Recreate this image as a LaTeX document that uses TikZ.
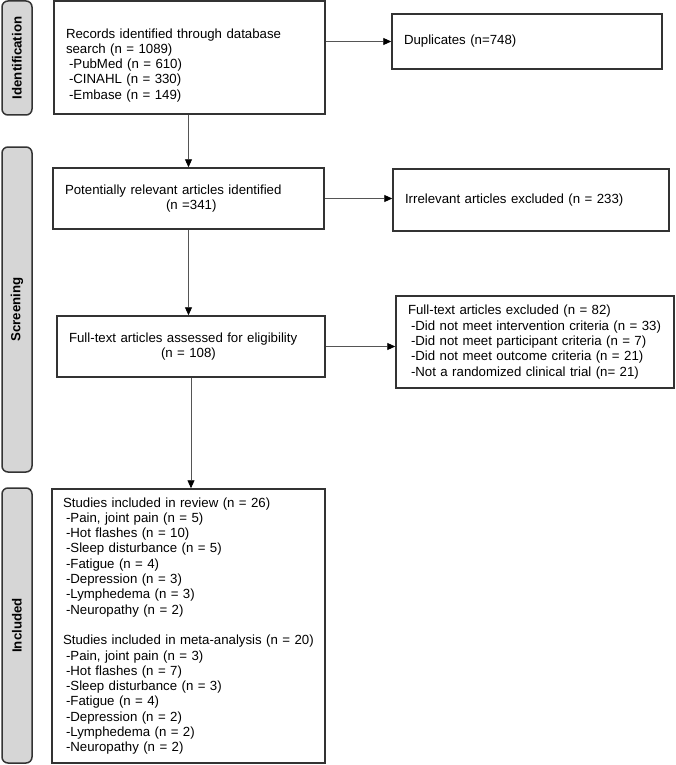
\documentclass[tikz,border=0pt]{standalone}
\usepackage{fontspec}
\setmainfont{Liberation Sans}
\usetikzlibrary{arrows.meta}
\definecolor{barfill}{HTML}{D6D6D6}
\definecolor{edgegray}{HTML}{333333}
\definecolor{arrowgray}{HTML}{555555}
\newcommand{\indline}{\hspace*{3pt}}

\begin{document}
\begin{tikzpicture}[x=1pt,y=-1pt,
    box/.style={draw=edgegray,line width=1.5pt,fill=white,inner xsep=12pt,inner ysep=2pt,
      align=left,font=\fontsize{13.25}{15.3}\selectfont},
    phase/.style={draw=edgegray,line width=1.5pt,fill=barfill,rounded corners=6pt,
      rotate=90,minimum height=30pt,font=\fontsize{13.25}{15.3}\selectfont\bfseries},
    arr/.style={draw=arrowgray,line width=0.9pt,-{Triangle[length=8pt,width=7pt,color=black]}}]
    \useasboundingbox (0,0) rectangle (675,765);

    % --- Phase bars (left)
    \node[phase,minimum width=114pt] (ident) at (17,58) {Identification};
    \node[phase,minimum width=325pt] (screen) at (17,309.5) {Screening};
    \node[phase,minimum width=275pt] (incl) at (17,625.5) {Included};

    % --- Identification
    \node[box,text width=247pt,minimum height=113pt] (rec) at (189.5,57.5)
      {\rule{0pt}{25pt}Records identified through database\\search (n = 1089)\\
       \indline-PubMed (n = 610)\\\indline-CINAHL (n = 330)\\\indline-Embase (n = 149)};
    \node[box,text width=246pt,minimum height=55pt] (dup) at (527,41.5) {Duplicates (n=748)};

    % --- Screening
    \node[box,text width=247pt,minimum height=61pt] (pot) at (188.5,198.5)
      {Potentially relevant articles identified\\\hspace*{101pt}(n =341)};
    \node[box,text width=252pt,minimum height=62pt] (irr) at (531,200)
      {Irrelevant articles excluded (n = 233)};

    \node[box,text width=244pt,minimum height=61pt] (full) at (191,346.5)
      {Full-text articles assessed for eligibility\\\hspace*{92pt}(n = 108)};
    \node[box,text width=254pt,minimum height=92pt] (excl) at (535,342)
      {Full-text articles excluded (n = 82)\\
       \indline-Did not meet intervention criteria (n = 33)\\
       \indline-Did not meet participant criteria (n = 7)\\
       \indline-Did not meet outcome criteria (n = 21)\\
       \indline-Not a randomized clinical trial (n= 21)};

    % --- Included
    \node[box,inner xsep=11pt,text width=251pt,minimum height=274pt] (res) at (188.5,626)
      {Studies included in review (n = 26)\\
       \indline-Pain, joint pain (n = 5)\\\indline-Hot flashes (n = 10)\\
       \indline-Sleep disturbance (n = 5)\\\indline-Fatigue (n = 4)\\
       \indline-Depression (n = 3)\\\indline-Lymphedema (n = 3)\\
       \indline-Neuropathy (n = 2)\\[15.3pt]
       Studies included in meta-analysis (n = 20)\\
       \indline-Pain, joint pain (n = 3)\\\indline-Hot flashes (n = 7)\\
       \indline-Sleep disturbance (n = 3)\\\indline-Fatigue (n = 4)\\
       \indline-Depression (n = 2)\\\indline-Lymphedema (n = 2)\\
       \indline-Neuropathy (n = 2)};

    % --- Arrows
    \draw[arr] (rec.east |- dup.west) -- (dup.west);
    \draw[arr] (rec.south -| pot.north) -- (pot.north);
    \draw[arr] (pot.east) -- (pot.east -| irr.west);
    \draw[arr] (pot.south) -- (pot.south |- full.north);
    \draw[arr] (full.east) -- (full.east -| excl.west);
    \draw[arr] (full.south) -- (full.south |- res.north);
  \end{tikzpicture}
\end{document}
